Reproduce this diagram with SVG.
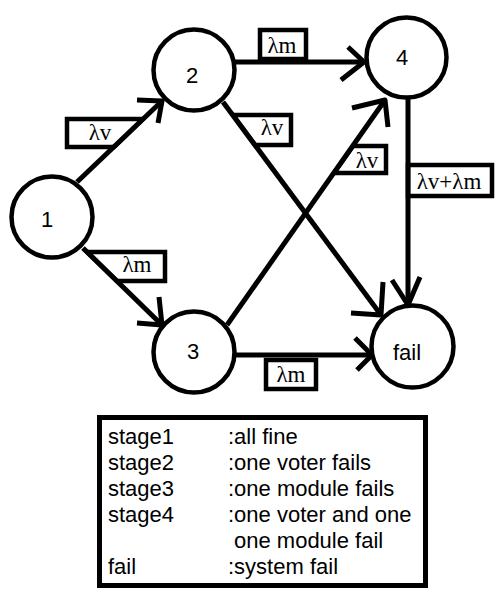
<svg xmlns="http://www.w3.org/2000/svg" width="503" height="609" viewBox="0 0 503 609">
<style>
.node{fill:#fff;stroke:#000;stroke-width:4.5}
.nl{font-family:"Liberation Sans",Arial,sans-serif;font-size:22px;text-anchor:middle;fill:#000}
.e{fill:none;stroke:#000;stroke-width:5;stroke-linecap:butt}
.ah{fill:none;stroke:#000;stroke-width:5;stroke-linecap:butt;stroke-linejoin:round}
.lb{fill:#fff;stroke:#000;stroke-width:4.5}
.lt{font-family:"Liberation Serif","Times New Roman",serif;font-size:23px;text-anchor:middle;fill:#000}
.lg{font-family:"Liberation Sans",Arial,sans-serif;font-size:22px;fill:#000}
</style>
<rect width="503" height="609" fill="#fff"/>
<g id="connectors">
  <!-- label boxes -->
  <polygon class="lb" points="67,119 143,119 114,147 67,147"/>
  <polygon class="lb" points="233,115 291,115 291,145 255,145"/>
  <polygon class="lb" points="353,146 386,146 386,173 334,173"/>
  <rect class="lb" x="408" y="165" width="84" height="31"/>
  <polygon class="lb" points="87,252 165,252 165,281 117,281"/>
  <rect class="lb" x="260" y="30" width="46" height="29"/>
  <rect class="lb" x="266" y="360" width="50" height="29"/>
  <!-- 1 -> 2 -->
  <line class="e" x1="77" y1="182" x2="162" y2="101"/>
  <polyline class="ah" points="137,100 162,101 158,123"/>
  <!-- 2 -> 4 -->
  <line class="e" x1="234" y1="62" x2="364" y2="62"/>
  <polyline class="ah" points="348,47 364,62 341,80"/>
  <!-- 2 -> fail -->
  <line class="e" x1="223" y1="102" x2="381" y2="315"/>
  <polyline class="ah" points="383,282 381,315 351,313"/>
  <!-- 3 -> 4 -->
  <line class="e" x1="227" y1="325" x2="385" y2="100"/>
  <polyline class="ah" points="352,108 385,100 388,127"/>
  <!-- 4 -> fail -->
  <line class="e" x1="408" y1="98" x2="408" y2="305"/>
  <polyline class="ah" points="392,280 408,305 420,277"/>
  <!-- 1 -> 3 -->
  <line class="e" x1="83" y1="248" x2="162" y2="325"/>
  <polyline class="ah" points="159,297 162,325 137,323"/>
  <!-- 3 -> fail -->
  <line class="e" x1="234" y1="355" x2="372" y2="355"/>
  <polyline class="ah" points="355,338 372,355 357,370"/>
  <!-- label texts -->
  <text class="lt" x="100" y="140">λv</text>
  <text class="lt" x="282" y="53">λm</text>
  <text class="lt" x="272" y="135">λv</text>
  <text class="lt" x="367" y="168">λv</text>
  <text class="lt" x="449" y="189">λv+λm</text>
  <text class="lt" x="137" y="272">λm</text>
  <text class="lt" x="291" y="382">λm</text>
</g>
<g id="node1"><circle class="node" cx="52" cy="217" r="40.5"/><text class="nl" x="47" y="227">1</text></g>
<g id="node2"><circle class="node" cx="194" cy="70" r="40.5"/><text class="nl" x="192" y="83">2</text></g>
<g id="node3"><circle class="node" cx="194" cy="352" r="40.5"/><text class="nl" x="193" y="359">3</text></g>
<g id="node4"><circle class="node" cx="406.5" cy="57.5" r="40"/><text class="nl" x="402" y="65">4</text></g>
<g id="nodefail"><circle class="node" cx="412.5" cy="346.5" r="41"/><text class="nl" x="407" y="360">fail</text></g>
<g id="legend">
  <rect x="99.5" y="417.5" width="326" height="168" fill="#fff" stroke="#000" stroke-width="5"/>
  <text class="lg" x="108" y="444">stage1</text>
  <text class="lg" x="228" y="444">:all fine</text>
  <text class="lg" x="108" y="470">stage2</text>
  <text class="lg" x="228" y="470">:one voter fails</text>
  <text class="lg" x="108" y="496">stage3</text>
  <text class="lg" x="228" y="496">:one module fails</text>
  <text class="lg" x="108" y="522">stage4</text>
  <text class="lg" x="228" y="522">:one voter and one</text>
  <text class="lg" x="234" y="548">one module fail</text>
  <text class="lg" x="108" y="574">fail</text>
  <text class="lg" x="228" y="574">:system fail</text>
</g>
</svg>
